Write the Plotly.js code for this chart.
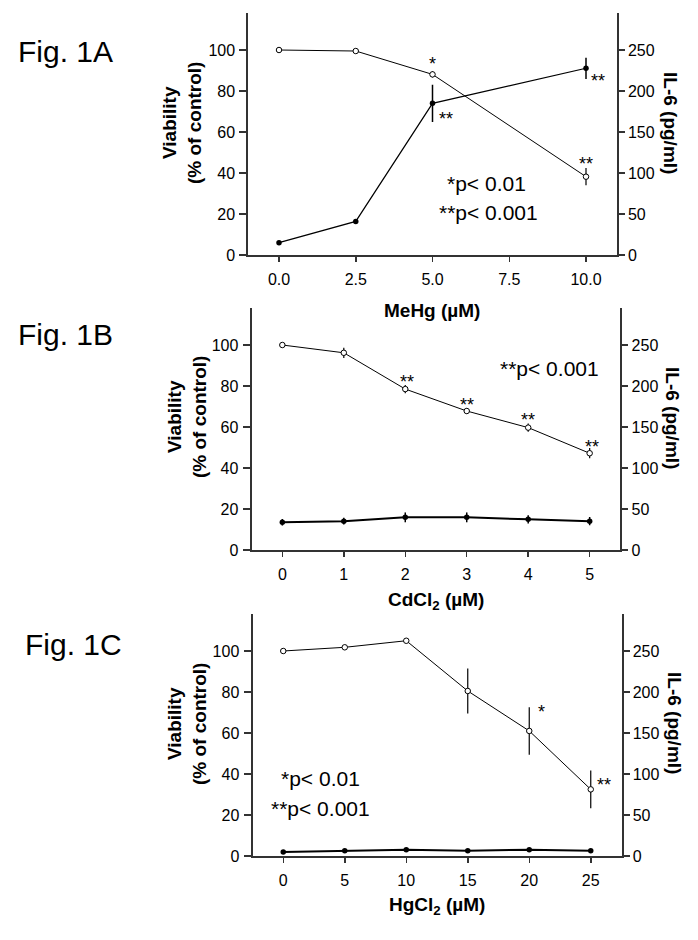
<!DOCTYPE html>
<html>
<head>
<meta charset="utf-8">
<script src="https://cdn.plot.ly/plotly-3.0.1.min.js"></script>
<style>html,body{margin:0;padding:0;background:#fff;}#chart{width:698px;height:940px;}</style>
</head>
<body>
<div id="chart"></div>
<script>
// ---- Data ----
const aDose = [0, 2.5, 5, 10];
const aViability = [100, 99.5, 88.1, 38.2];
const aViabilityErr = [0.4, 0.6, 1.5, 4.2];
const aIL6 = [15, 41, 185, 227.7];
const aIL6Err = [1.5, 2, 22.7, 13];

const bDose = [0, 1, 2, 3, 4, 5];
const bViability = [100, 96.2, 78.5, 67.8, 59.7, 47.2];
const bViabilityErr = [0.5, 2.5, 2, 1.5, 2, 2.5];
const bIL6 = [33.8, 35.2, 39.8, 39.8, 37.4, 35.2];
const bIL6Err = [4, 4, 6, 6, 5, 5];

const cDose = [0, 5, 10, 15, 20, 25];
const cViability = [100, 101.8, 105, 80.5, 61, 32.5];
const cViabilityErr = [0.3, 0.5, 0.8, 11, 11.6, 9.2];
const cIL6 = [4.9, 6.5, 7.7, 6.5, 7.7, 6.5];
const cIL6Err = [1, 1, 1, 1, 1, 1];

const aTicks = [0, 2.5, 5, 7.5, 10];
const aTickText = ['0.0', '2.5', '5.0', '7.5', '10.0'];
const bTicks = [0, 1, 2, 3, 4, 5];
const cTicks = [0, 5, 10, 15, 20, 25];
const viabilityTicks = [0, 20, 40, 60, 80, 100];
const il6Ticks = [0, 50, 100, 150, 200, 250];

// ---- Helpers ----
const W = 698, H = 940;
const px = p => p / W;
const py = p => 1 - p / H;
const FONT = 'Arial, "Liberation Sans", sans-serif';
const AX = '#333';

function viabTrace(x, y, err, xa, ya) {
  return {x: x, y: y, xaxis: xa, yaxis: ya, type: 'scatter', mode: 'lines+markers',
    line: {color: '#000', width: 1},
    marker: {symbol: 'circle', size: 5.5, color: '#fff', line: {color: '#000', width: 1}},
    error_y: {type: 'data', array: err, visible: true, width: 0, thickness: 1.2, color: '#000'},
    cliponaxis: false};
}
function il6Trace(x, y, err, xa, ya, lw) {
  return {x: x, y: y, xaxis: xa, yaxis: ya, type: 'scatter', mode: 'lines+markers',
    line: {color: '#000', width: lw},
    marker: {symbol: 'circle', size: 5.5, color: '#000'},
    error_y: {type: 'data', array: err, visible: true, width: 0, thickness: 1.5, color: '#000'},
    cliponaxis: false};
}

const data = [
  viabTrace(aDose, aViability, aViabilityErr, 'x', 'y'),
  il6Trace(aDose, aIL6, aIL6Err, 'x', 'y2', 1.2),
  viabTrace(bDose, bViability, bViabilityErr, 'x2', 'y3'),
  il6Trace(bDose, bIL6, bIL6Err, 'x2', 'y4', 2),
  viabTrace(cDose, cViability, cViabilityErr, 'x3', 'y5'),
  il6Trace(cDose, cIL6, cIL6Err, 'x3', 'y6', 2)
];

const tickFont = {family: FONT, size: 16, color: '#000'};
function xAxis(domain, anchor, range, tickvals, ticktext) {
  const o = {domain: domain, anchor: anchor, range: range, tickvals: tickvals,
    showline: true, linecolor: AX, linewidth: 2, ticks: 'outside', ticklen: 5, tickwidth: 1.5,
    tickcolor: AX, showgrid: false, zeroline: false, tickfont: tickFont, ticklabelstandoff: 4};
  if (ticktext) o.ticktext = ticktext;
  return o;
}
function yLeft(domain, anchor) {
  return {domain: domain, anchor: anchor, range: [0, 118], tickvals: viabilityTicks,
    showline: true, linecolor: AX, linewidth: 2, ticks: 'outside', ticklen: 7, tickwidth: 1.5,
    tickcolor: AX, showgrid: false, zeroline: false, tickfont: tickFont, ticklabelstandoff: 1};
}
function yRight(over, anchor) {
  return {overlaying: over, anchor: anchor, side: 'right', range: [0, 295], tickvals: il6Ticks,
    showline: true, linecolor: AX, linewidth: 2, ticks: 'outside', ticklen: 6, tickwidth: 1.5,
    tickcolor: AX, showgrid: false, zeroline: false, tickfont: tickFont, ticklabelstandoff: 0};
}

const ann = [];
function txt(text, x, y, xref, yref, size, opts) {
  ann.push(Object.assign({text: text, x: x, y: y, xref: xref, yref: yref, showarrow: false,
    xanchor: 'center', yanchor: 'middle', font: {family: FONT, size: size, color: '#000'}}, opts || {}));
}
// Figure labels
txt('Fig. 1A', px(16), py(52), 'paper', 'paper', 30, {xanchor: 'left'});
txt('Fig. 1B', px(16), py(334), 'paper', 'paper', 30, {xanchor: 'left'});
txt('Fig. 1C', px(23), py(644), 'paper', 'paper', 30, {xanchor: 'left'});
// Y titles
const yTitle = '<b>Viability<br>(% of control)</b>';
txt(yTitle, px(182), py(123), 'paper', 'paper', 19, {textangle: -90});
txt(yTitle, px(187), py(417), 'paper', 'paper', 19, {textangle: -90});
txt(yTitle, px(187), py(724), 'paper', 'paper', 19, {textangle: -90});
const rTitle = '<b>IL-6 (pg/ml)</b>';
txt(rTitle, px(671), py(123), 'paper', 'paper', 19, {textangle: 90});
txt(rTitle, px(673), py(418), 'paper', 'paper', 19, {textangle: 90});
txt(rTitle, px(675), py(723), 'paper', 'paper', 19, {textangle: 90});
// X titles
txt('<b>MeHg (µM)</b>', px(432), py(310), 'paper', 'paper', 19);
txt('<b>CdCl<sub>2</sub> (µM)</b>', px(436), py(601), 'paper', 'paper', 19);
txt('<b>HgCl<sub>2</sub> (µM)</b>', px(437), py(906), 'paper', 'paper', 19);
// Significance marks panel A
txt('*', 5, 93.4, 'x', 'y', 18);
txt('**', 5.44, 66.2, 'x', 'y', 18);
txt('**', 10.38, 84.8, 'x', 'y', 18);
txt('**', 10.0, 44.4, 'x', 'y', 18);
txt('*p< 0.01', 6.77, 35, 'x', 'y', 21);
txt('**p< 0.001', 6.82, 20.5, 'x', 'y', 21);
// Panel B
txt('**', 2.02, 82.1, 'x2', 'y3', 18);
txt('**', 3.01, 70.8, 'x2', 'y3', 18);
txt('**', 4.0, 63.5, 'x2', 'y3', 18);
txt('**', 5.03, 50.4, 'x2', 'y3', 18);
txt('**p< 0.001', 4.35, 88.5, 'x2', 'y3', 21);
// Panel C
txt('*', 21.0, 70.3, 'x3', 'y5', 18);
txt('**', 26.1, 34.6, 'x3', 'y5', 18);
txt('*p< 0.01', 3.0, 37.8, 'x3', 'y5', 21);
txt('**p< 0.001', 3.05, 23.2, 'x3', 'y5', 21);

const layout = {
  width: W, height: H, margin: {l: 0, r: 0, t: 0, b: 0, pad: 0},
  paper_bgcolor: '#fff', plot_bgcolor: 'rgba(0,0,0,0)', showlegend: false,
  font: {family: FONT, color: '#000'},
  xaxis: xAxis([px(248.3), px(616.7)], 'y', [-1, 11], aTicks, aTickText),
  yaxis: yLeft([py(255), py(13.1)], 'x'),
  yaxis2: yRight('y', 'x'),
  xaxis2: xAxis([px(251.6), px(620.4)], 'y3', [-0.5, 5.5], bTicks),
  yaxis3: yLeft([py(550), py(308.1)], 'x2'),
  yaxis4: yRight('y3', 'x2'),
  xaxis3: xAxis([px(252.5), px(621.5)], 'y5', [-2.5, 27.5], cTicks),
  yaxis5: yLeft([py(856), py(614.1)], 'x3'),
  yaxis6: yRight('y5', 'x3'),
  annotations: ann
};

Plotly.newPlot('chart', data, layout, {staticPlot: true, displayModeBar: false});
</script>
</body>
</html>
